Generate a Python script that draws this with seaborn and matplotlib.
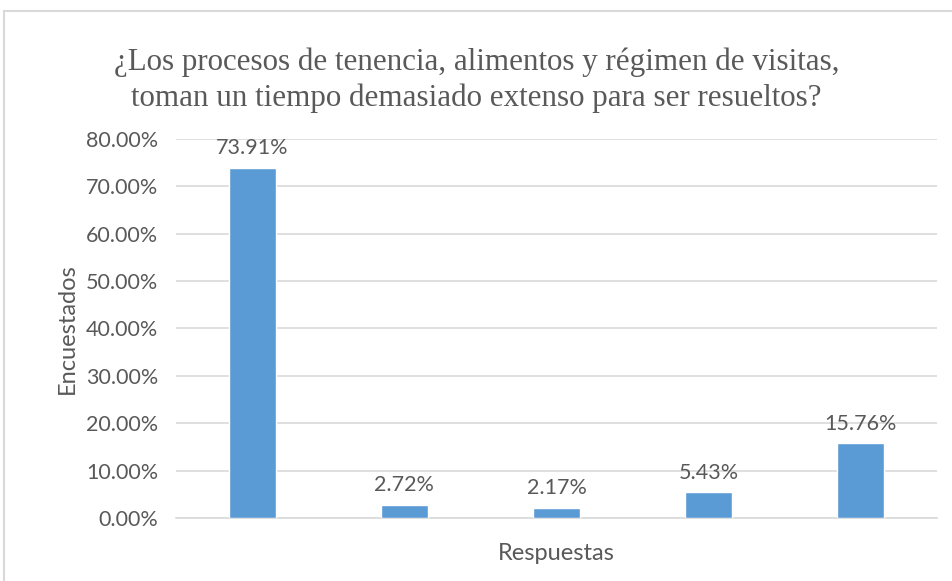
import numpy as np
import matplotlib.pyplot as plt
import seaborn as sns
import pandas as pd
from matplotlib.patches import Rectangle

# data
respuestas = ["R1", "R2", "R3", "R4", "R5"]
porcentajes = [73.91, 2.72, 2.17, 5.43, 15.76]
y_ticks = [0, 10, 20, 30, 40, 50, 60, 70, 80]

df = pd.DataFrame({"Respuestas": respuestas, "Encuestados": porcentajes})

sns.set_theme(style="white")
plt.rcParams['font.family'] = ['Lato', 'DejaVu Sans']
gray = "#595959"

fig = plt.figure(figsize=(9.53, 5.81), dpi=100)
ax = fig.add_axes([0.1847, 0.1084, 0.7985, 0.6524])

sns.barplot(data=df, x="Respuestas", y="Encuestados", color="#5B9BD5",
            width=0.31, saturation=1, ax=ax, zorder=3)

ax.set_ylim(0, 80)
ax.set_yticks(y_ticks)
ax.set_yticklabels([f"{v:.2f}%" for v in y_ticks], fontsize=15.5, color=gray)
ax.set_xticks(range(len(respuestas)))
ax.set_xticklabels([])
ax.tick_params(axis="y", length=0, pad=13)
ax.tick_params(axis="x", length=0, pad=10)
ax.grid(axis="y", color="#d9d9d9", linewidth=1.2, zorder=0)
for s in ["top", "right", "left"]:
    ax.spines[s].set_visible(False)
ax.spines["bottom"].set_color("#d9d9d9")
ax.spines["bottom"].set_linewidth(1.2)

ax.bar_label(ax.containers[0], labels=[f"{v:.2f}%" for v in porcentajes],
             padding=7, fontsize=15.5, color=gray)

ax.set_xlabel("Respuestas", fontsize=17, color=gray, labelpad=8)
ax.set_ylabel("Encuestados", fontsize=17, color=gray, labelpad=6)

fig.text(0.5, 0.862, "¿Los procesos de tenencia, alimentos y régimen de visitas,\n"
         "toman un tiempo demasiado extenso para ser resueltos?",
         ha="center", va="center", fontsize=22.3, color=gray,
         family=["Liberation Serif", "DejaVu Serif"], linespacing=1.3)

# outer chart frame
fig.patches.append(Rectangle((4 / 953, -0.01), 1.0, 1 - 11 / 581 + 0.01,
                             transform=fig.transFigure, fill=False,
                             edgecolor="#d9d9d9", linewidth=1.5))

fig.savefig("out.png", dpi=100, facecolor="white")
